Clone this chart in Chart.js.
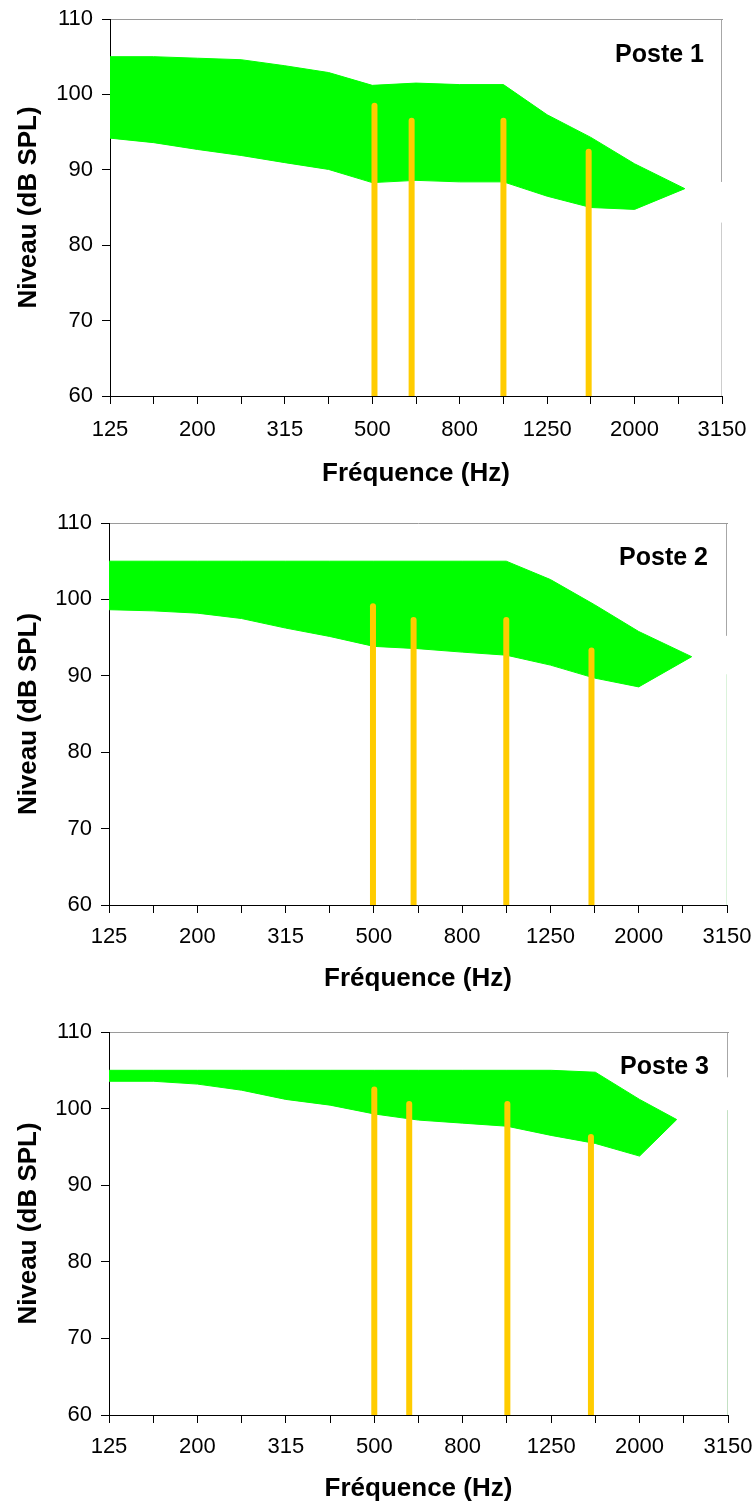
<!DOCTYPE html>
<html><head><meta charset="utf-8">
<script src="https://cdn.jsdelivr.net/npm/chart.js@4/dist/chart.umd.min.js"></script>
<style>
html,body{margin:0;padding:0;background:#fff;width:755px;height:1504px;overflow:hidden;}
canvas{position:absolute;left:0;}
</style></head><body>
<canvas id="c1" width="755" height="500" style="top:0px"></canvas>
<canvas id="c2" width="755" height="505" style="top:500px"></canvas>
<canvas id="c3" width="755" height="499" style="top:1005px"></canvas>
<script>
// ---- data ----
const freqLabels = ['125','160','200','250','315','400','500','630','800','1000','1250','1600','2000','2500','3150'];
const yTicks = [60, 70, 80, 90, 100, 110];
const panelTitles = ['Poste 1', 'Poste 2', 'Poste 3'];

// band index of each green-area vertex (last value = tip of the area)
const bandPos1 = [0,1,2,3,4,5,6,7,8,9,10,11,12,13.15];
const upper1 = [105, 105, 104.8, 104.6, 103.8, 102.9, 101.2, 101.5, 101.3, 101.3, 97.3, 94.3, 90.8, 87.5];
const lower1 = [94.2, 93.6, 92.7, 91.9, 90.95, 90.05, 88.3, 88.6, 88.4, 88.4, 86.5, 85.0, 84.75, 87.5];
const barPos1 = [6.05, 6.9, 9.0, 10.95];
const barTop1 = [98.5, 96.5, 96.5, 92.4];

const bandPos2 = [0,1,2,3,4,5,6,7,8,9,10,11,12,13.2];
const upper2 = [105, 105, 105, 105, 105, 105, 105, 105, 105, 105, 102.6, 99.3, 95.8, 92.5];
const lower2 = [98.65, 98.5, 98.2, 97.5, 96.25, 95.15, 93.85, 93.55, 93.1, 92.7, 91.4, 89.7, 88.55, 92.5];
const barPos2 = [5.98, 6.9, 9.0, 10.93];
const barTop2 = [99.1, 97.3, 97.3, 93.3];

const bandPos3 = [0,1,2,3,4,5,6,7,8,9,10,11,12,12.84];
const upper3 = [105, 105, 105, 105, 105, 105, 105, 105, 105, 105, 105, 104.75, 101.2, 98.57];
const lower3 = [103.57, 103.57, 103.2, 102.4, 101.2, 100.45, 99.3, 98.5, 98.1, 97.7, 96.5, 95.45, 93.8, 98.57];
const barPos3 = [6.0, 6.79, 9.01, 10.9];
const barTop3 = [102.5, 100.6, 100.6, 96.3];

// right-edge frame pieces: [grey top segment lower end, lower segment upper end]
const edge1 = [88.4, 83.0];
const edge2 = [95.25, 90.2];
const edge3 = [104.1, 99.8];

// ---- styling / layout ----
const FONT = '"Liberation Sans", Arial, Helvetica, sans-serif';
const GREEN = '#00ff00';
const YELLOW = '#ffcc00';

const posteLabel = {
  id: 'posteLabel',
  afterDatasetsDraw(chart, args, opts) {
    const {ctx, chartArea} = chart;
    ctx.save();
    ctx.font = 'bold 25px ' + FONT;
    ctx.fillStyle = '#000';
    ctx.textAlign = 'right';
    ctx.textBaseline = 'middle';
    ctx.fillText(opts.text, chartArea.right - opts.dx, chartArea.top + opts.dy);
    ctx.restore();
  }
};

function pts(xs, ys) { return xs.map((x, i) => ({x: x, y: ys[i]})); }

function makePanel(id, title, bandPos, upper, lower, barPos, barTop, edge, edgeColor, lay) {
  const datasets = [];
  // yellow bars on top
  barPos.forEach((p, i) => {
    datasets.push({
      data: [{x: p, y: yTicks[0]}, {x: p, y: barTop[i]}],
      borderColor: YELLOW, borderWidth: 6, borderCapStyle: 'round',
      pointRadius: 0, fill: false, order: 0
    });
  });
  // right edge pieces
  datasets.push({
    data: [{x: 14, y: yTicks[yTicks.length-1]}, {x: 14, y: edge[0]}],
    borderColor: '#9a9a9a', borderWidth: 1, pointRadius: 0, fill: false, order: 0
  });
  datasets.push({
    data: [{x: 14, y: yTicks[0]}, {x: 14, y: edge[1]}],
    borderColor: edgeColor, borderWidth: 1, pointRadius: 0, fill: false, order: 0
  });
  const upIdx = datasets.length;
  datasets.push({
    data: pts(bandPos, upper), borderColor: GREEN, borderWidth: 1,
    backgroundColor: GREEN, pointRadius: 0, fill: upIdx + 1, order: 1, tension: 0
  });
  datasets.push({
    data: pts(bandPos, lower), borderColor: GREEN, borderWidth: 1,
    pointRadius: 0, fill: false, order: 1, tension: 0
  });

  return new Chart(document.getElementById(id), {
    type: 'line',
    data: { datasets: datasets },
    plugins: [posteLabel],
    options: {
      responsive: false,
      animation: false,
      devicePixelRatio: 1,
      layout: { padding: { top: lay.top, right: lay.right, left: 0, bottom: 0 } },
      plugins: {
        legend: { display: false },
        tooltip: { enabled: false },
        posteLabel: { text: title, dx: lay.pdx, dy: lay.pdy }
      },
      scales: {
        x: {
          type: 'linear', position: 'bottom', min: 0, max: 14,
          afterFit: s => { s.height = lay.xh; s.paddingLeft = 0; s.paddingRight = 0; },
          grid: { drawOnChartArea: false, drawTicks: true, tickLength: 8, color: '#000' },
          border: { color: '#000', width: 1 },
          ticks: {
            stepSize: 1, autoSkip: false, maxRotation: 0, minRotation: 0,
            padding: lay.xpad, color: '#000', font: { family: FONT, size: 22 },
            callback: v => (Number.isInteger(v) && v % 2 === 0) ? freqLabels[v] : ''
          },
          title: { display: true, text: 'Fréquence (Hz)', color: '#000',
                   font: { family: FONT, size: 26, weight: 'bold' },
                   padding: { top: 0, bottom: lay.tpb } }
        },
        x2: {
          type: 'linear', position: 'top', min: 0, max: 14, display: true,
          afterFit: s => { s.height = 0; s.paddingLeft = 0; s.paddingRight = 0; },
          grid: { display: false, drawTicks: false },
          ticks: { display: false },
          border: { color: '#9a9a9a', width: 1 }
        },
        y: {
          type: 'linear', position: 'left', min: yTicks[0], max: yTicks[yTicks.length-1],
          afterFit: s => { s.width = lay.yw; s.paddingTop = 0; s.paddingBottom = 0; },
          grid: { drawOnChartArea: false, drawTicks: true, tickLength: 8, color: '#000' },
          border: { color: '#000', width: 1 },
          afterBuildTicks: s => { s.ticks = yTicks.map(v => ({value: v})); },
          ticks: { padding: 9, color: '#000', font: { family: FONT, size: 22 } },
          title: { display: true, text: 'Niveau (dB SPL)', color: '#000',
                   font: { family: FONT, size: 26, weight: 'bold' },
                   padding: { top: 13, bottom: 0 } }
        }
      }
    }
  });
}

makePanel('c1', panelTitles[0], bandPos1, upper1, lower1, barPos1, barTop1, edge1, '#9a9a9a',
  { top: 19, right: 33, yw: 110, xh: 104, xpad: 13, tpb: 11, pdx: 18, pdy: 36 });
makePanel('c2', panelTitles[1], bandPos2, upper2, lower2, barPos2, barTop2, edge2, '#b6e6b6',
  { top: 23, right: 28, yw: 109, xh: 100, xpad: 11, tpb: 11, pdx: 19, pdy: 35 });
makePanel('c3', panelTitles[2], bandPos3, upper3, lower3, barPos3, barTop3, edge3, '#86c086',
  { top: 27, right: 27, yw: 109, xh: 89, xpad: 11, tpb: 0, pdx: 19, pdy: 35 });
</script>
</body></html>
